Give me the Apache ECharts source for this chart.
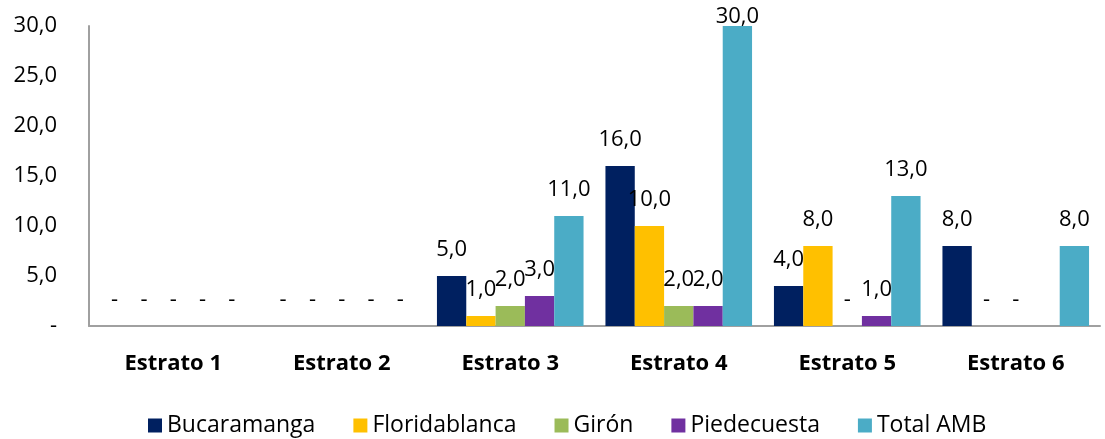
<!DOCTYPE html>
<html>
<head>
<meta charset="utf-8">
<script src="https://cdn.jsdelivr.net/npm/echarts@6/dist/echarts.min.js"></script>
<style>
  html, body { margin: 0; padding: 0; background: #fff; }
  #charts { width: 1105px; height: 439px; }
</style>
</head>
<body>
<div id="charts"></div>
<script>
// datos por estrato
const categories = ['Estrato 1', 'Estrato 2', 'Estrato 3', 'Estrato 4', 'Estrato 5', 'Estrato 6']
const bucaramanga = [0, 0, 5, 16, 4, 8]
const floridablanca = [0, 0, 1, 10, 8, 0]
const giron = [0, 0, 2, 2, 0, 0]
const piedecuesta = [0, 0, 3, 2, 1, null]
const totalAMB = [0, 0, 11, 30, 13, 8]

const seriesNames = ['Bucaramanga', 'Floridablanca', 'Girón', 'Piedecuesta', 'Total AMB']
const seriesData = [bucaramanga, floridablanca, giron, piedecuesta, totalAMB]
const colors = ['#002060', '#FFC000', '#9BBB59', '#7030A0', '#4BACC6']

const font = 'Open Sans'
const fmt = (v) => v === 0 ? '-' : v.toFixed(1).replace('.', ',')

let myChart = echarts.init(document.getElementById('charts'))
let option = {
  animation: false,
  textStyle: { fontFamily: font },
  color: colors,
  grid: { left: 89, right: 5, top: 26, bottom: 113 },
  legend: {
    data: seriesNames,
    left: 143,
    top: 409,
    itemWidth: 14,
    itemHeight: 14,
    itemGap: 38,
    icon: 'rect',
    textStyle: { fontFamily: font, fontSize: 23, color: '#000' }
  },
  xAxis: {
    type: 'category',
    data: categories,
    axisTick: { show: false },
    axisLine: { lineStyle: { color: '#a0a0a0', width: 2 } },
    axisLabel: { fontFamily: font, fontSize: 22, fontWeight: 'bold', color: '#000', margin: 27 }
  },
  yAxis: {
    type: 'value',
    min: 0,
    max: 30,
    interval: 5,
    splitLine: { show: false },
    axisTick: { show: false },
    axisLine: { show: true, lineStyle: { color: '#a0a0a0', width: 2 } },
    axisLabel: { fontFamily: font, fontSize: 22, color: '#000', margin: 32, formatter: fmt }
  },
  series: seriesNames.map((name, i) => ({
    name: name,
    type: 'bar',
    barGap: 0,
    barCategoryGap: '13%',
    data: seriesData[i],
    label: {
      show: true,
      position: 'top',
      distance: 15,
      fontFamily: font,
      fontSize: 22,
      color: '#000',
      formatter: (p) => fmt(p.value)
    }
  })),
  labelLayout: (p) => {
    if (p.labelRect.y < 4) return { dy: 6 - p.labelRect.y }
  }
}
myChart.setOption(option)
</script>
</body>
</html>
